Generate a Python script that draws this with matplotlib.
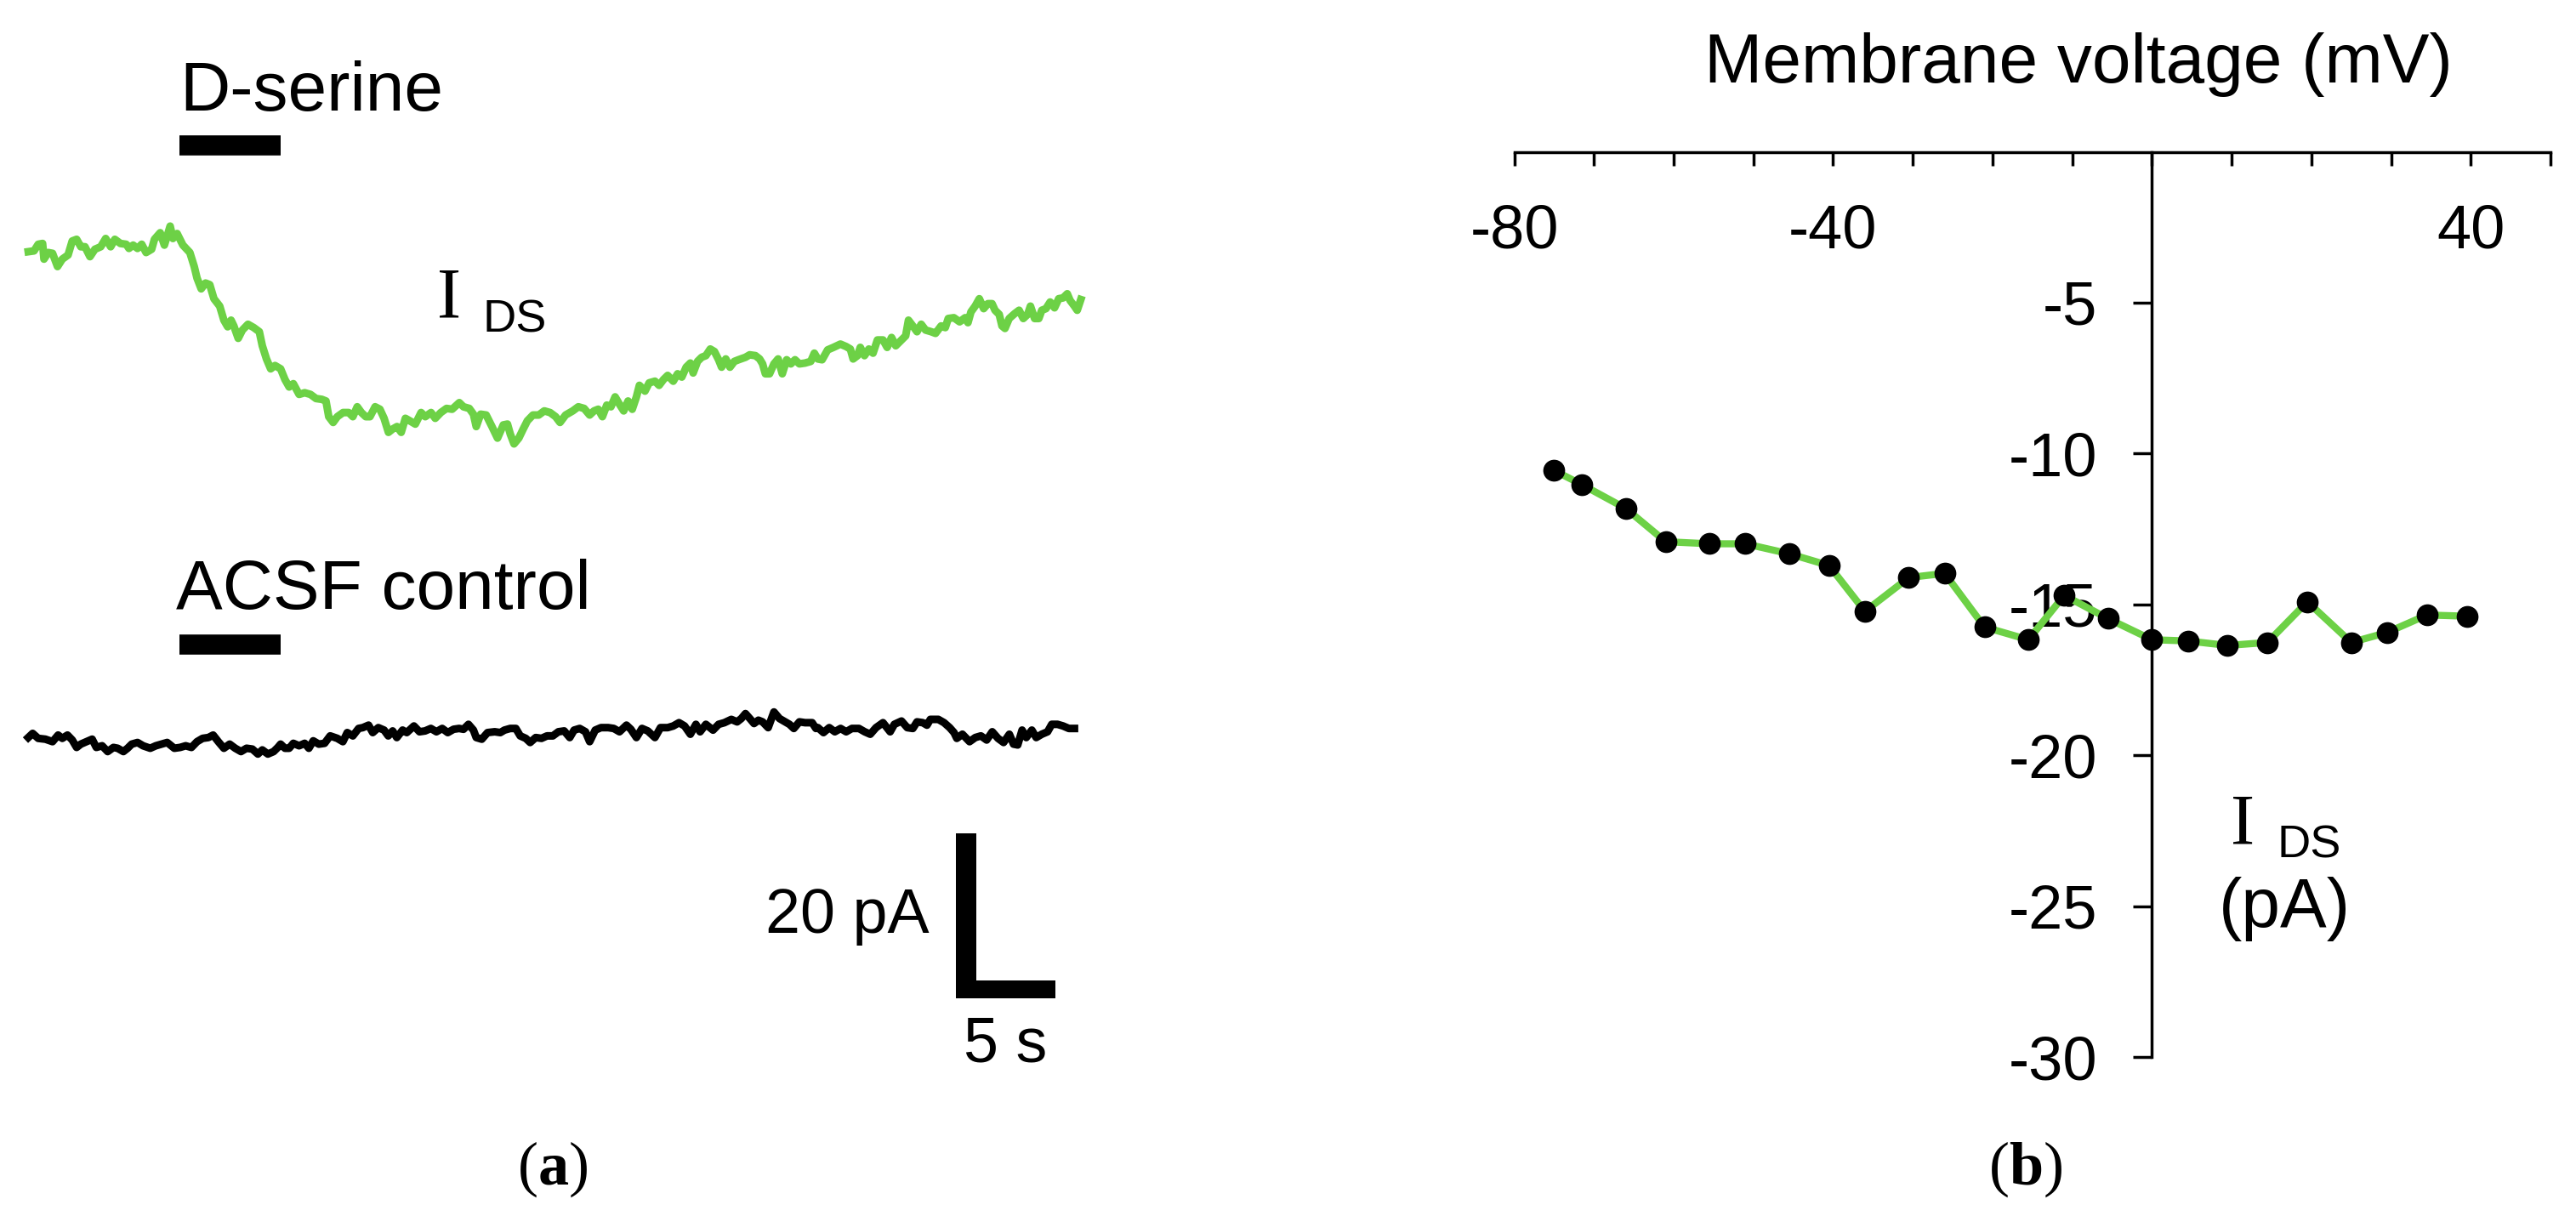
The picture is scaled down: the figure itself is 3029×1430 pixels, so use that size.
import matplotlib
matplotlib.use("Agg")
import matplotlib.pyplot as plt
from matplotlib.patches import Rectangle

plt.rcParams['font.family'] = 'Liberation Sans'
plt.rcParams['mathtext.fontset'] = 'custom'
plt.rcParams['mathtext.rm'] = 'Liberation Serif'
plt.rcParams['mathtext.bf'] = 'Liberation Serif:bold'

GREEN = '#6dd146'

# (a) D-serine trace: time (s), current (pA, relative to start)
dser_t = [0.01, 0.30, 0.51, 0.73, 0.80, 1.01, 1.23, 1.48, 1.72, 2.01, 2.22, 2.44, 2.65, 2.86,
          3.11, 3.36, 3.65, 3.90, 4.15, 4.36, 4.64, 4.93, 5.07, 5.28, 5.50, 5.71, 5.93, 6.21,
          6.35, 6.64, 6.85, 7.14, 7.28, 7.49, 7.78, 8.13, 8.35, 8.49, 8.70, 8.92, 9.13, 9.34,
          9.63, 9.84, 10.03, 10.20, 10.34, 10.56, 10.77, 11.05, 11.34, 11.62, 11.77, 11.98,
          12.19, 12.41, 12.69, 12.91, 13.12, 13.33, 13.62, 13.90, 14.19, 14.47, 14.76, 14.97,
          15.11, 15.33, 15.54, 15.83, 16.11, 16.32, 16.54, 16.75, 16.97, 17.18, 17.44,
          17.68, 17.89, 18.11, 18.32, 18.54, 18.75, 18.96, 19.18, 19.46, 19.75, 19.96, 20.25,
          20.46, 20.74, 21.03, 21.31, 21.67, 21.88, 22.17, 22.38, 22.52, 22.74, 23.02, 23.31,
          23.59, 23.88, 24.09, 24.23, 24.42, 24.66, 24.88, 25.09, 25.37, 25.66, 25.94, 26.23,
          26.51, 26.73, 27.01, 27.37, 27.65, 27.94, 28.22, 28.44, 28.65, 28.86, 29.08, 29.29,
          29.50, 29.72, 29.93, 30.15, 30.36, 30.57, 30.72, 31.00, 31.21, 31.50, 31.71, 31.93,
          32.14, 32.42, 32.64, 32.85, 33.07, 33.28, 33.42, 33.64, 33.85, 34.06, 34.28, 34.49,
          34.70, 34.85, 35.06, 35.27, 35.49, 35.70,
          36.05, 36.26, 36.55, 36.76, 36.91, 37.05, 37.26, 37.48, 37.69, 37.90, 38.12, 38.33,
          38.54, 38.76, 39.04, 39.33, 39.51, 39.68, 39.90, 40.18, 40.47, 40.82, 41.11, 41.32,
          41.46, 41.68, 41.82, 42.03, 42.25, 42.46, 42.68, 42.96, 43.17, 43.39, 43.60, 43.81,
          44.10, 44.24, 44.46, 44.67, 44.88, 45.10, 45.38, 45.60, 45.88, 46.09, 46.24, 46.52,
          46.81, 47.09, 47.23, 47.38, 47.59, 47.80, 48.02, 48.23, 48.44, 48.59, 48.80, 48.94,
          49.09, 49.30, 49.58, 49.80, 50.01, 50.23, 50.37, 50.58, 50.79, 50.94, 51.15, 51.36,
          51.58, 51.79, 52.01, 52.22, 52.36, 52.58, 52.72, 52.90]
dser_i = [0.0, 0.1, 0.9, 1.0, -0.9, -0.1, -0.2, -1.8, -0.9, -0.4, 1.3, 1.5, 0.6, 0.6,
          -0.6, 0.3, 0.6, 1.6, 0.6, 1.5, 1.0, 0.9, 0.4, 0.8, 0.4, 0.9, -0.1, 0.3,
          1.5, 2.3, 0.8, 3.1, 1.6, 2.2, 0.8, -0.1, -1.8, -3.2, -4.5, -3.8, -4.0, -5.7,
          -6.6, -8.3, -9.1, -8.3, -9.0, -10.5, -9.5, -8.8, -9.2, -9.7, -11.4, -13.0,
          -14.2, -13.8, -14.2, -15.5, -16.4, -16.0, -17.3, -17.1, -17.3, -17.8, -17.9, -18.1,
          -20.0, -20.7, -20.0, -19.5, -19.5, -20.0, -18.8, -19.5, -20.0, -20.0, -18.8,
          -19.1, -20.2, -21.9, -21.5, -21.2, -21.9, -20.2, -20.5, -20.9, -19.5, -20.0, -19.5,
          -20.2, -19.5, -19.0, -19.1, -18.3, -18.8, -19.0, -19.7, -21.2, -19.7, -19.8, -21.2,
          -22.6, -21.0, -20.9, -22.1, -23.3, -22.6, -21.5, -20.5, -19.8, -19.8, -19.3, -19.5,
          -20.0, -20.7, -19.8, -19.3, -18.8, -19.0, -19.8, -19.3, -19.1, -20.0, -18.6, -18.8,
          -17.6, -18.5, -19.3, -18.1, -19.1, -17.6, -16.2, -16.9, -15.9, -15.7, -16.2, -15.5,
          -15.0, -15.7, -14.8, -15.2, -14.0, -13.5, -14.7, -13.3, -12.8, -12.6, -11.8, -12.1,
          -13.1, -14.0, -13.0, -14.0, -13.3, -13.1,
          -12.8, -12.5, -12.6, -13.0, -13.6, -14.8, -14.8, -13.6, -13.0, -14.8, -13.1, -13.6,
          -13.1, -13.6, -13.5, -13.3, -12.3, -13.0, -13.1, -11.9, -11.6, -11.2, -11.5, -11.8,
          -13.0, -12.6, -11.6, -12.6, -11.8, -12.3, -10.7, -10.7, -11.6, -10.4, -11.4, -10.9,
          -10.2, -8.3, -9.0, -9.7, -8.8, -9.5, -9.7, -9.9, -9.0, -9.2, -8.1, -8.0,
          -8.5, -8.0, -8.6, -7.3, -6.6, -5.7, -6.9, -6.3, -6.3, -7.1, -7.6, -9.0,
          -9.3, -8.1, -7.5, -7.1, -8.1, -7.6, -6.6, -8.1, -8.1, -7.1, -6.9, -6.1,
          -6.8, -5.7, -5.6, -5.1, -5.9, -6.6, -7.1, -5.8]

# (a) ACSF control trace: time (s), current (pA, relative to start)
acsf_t = [0.01, 0.23, 0.51, 0.87, 1.23, 1.51, 1.72, 1.98, 2.22, 2.44, 2.65, 2.93, 3.22, 3.43,
          3.72, 4.00, 4.29, 4.50, 4.79, 5.00, 5.21, 5.50, 5.78, 6.14, 6.42, 6.71, 6.99, 7.35,
          7.64, 7.92, 8.21, 8.49, 8.77, 9.06, 9.30, 9.56, 9.84, 10.13, 10.41, 10.70, 10.98,
          11.27, 11.55, 11.77, 12.05, 12.34, 12.55, 12.69, 12.91,
          13.12, 13.33, 13.62, 13.90, 14.11, 14.33, 14.61, 14.90, 15.18, 15.54, 15.82, 16.04,
          16.32, 16.61, 16.82, 17.11, 17.32, 17.60, 17.89, 18.10, 18.32, 18.53, 18.82, 19.03,
          19.39, 19.67, 19.95, 20.24, 20.52, 20.81, 21.09, 21.38, 21.66, 21.88, 22.13, 22.38,
          22.52, 22.80, 23.09, 23.45, 23.73, 23.94, 24.23, 24.51, 24.73, 25.01, 25.23, 25.51,
          25.80, 26.08,
          26.37, 26.65, 26.94, 27.22, 27.44, 27.72, 28.01, 28.22, 28.50, 28.79, 29.15, 29.43,
          29.72, 30.07, 30.29, 30.57, 30.85, 31.14, 31.50, 31.78, 32.14, 32.42, 32.71, 32.99,
          33.28, 33.56, 33.77, 34.06, 34.42, 34.70, 34.99, 35.34, 35.63, 35.84, 36.05, 36.27,
          36.48, 36.70, 36.91, 37.19, 37.48, 37.76, 38.05, 38.26, 38.48, 38.76, 39.05, 39.40,
          39.59,
          39.69, 39.97, 40.26, 40.54, 40.83, 41.11, 41.40, 41.75, 42.04, 42.32, 42.61, 42.96,
          43.32, 43.53, 43.89, 44.18, 44.46, 44.67, 44.96, 45.17, 45.34, 45.74, 46.03, 46.31,
          46.53, 46.67, 46.95, 47.31, 47.60, 47.88, 48.17, 48.45, 48.74, 49.02, 49.31, 49.52,
          49.73, 49.95, 50.16, 50.44, 50.66, 50.94, 51.23, 51.44, 51.73, 52.01, 52.30, 52.58]
acsf_i = [0.3, 0.8, 0.2, 0.1, -0.2, 0.6, 0.2, 0.6, 0.0, -0.9, -0.5, -0.2, 0.1, -0.9,
          -0.7, -1.4, -0.9, -1.0, -1.4, -1.0, -0.5, -0.3, -0.7, -1.0, -0.7, -0.5, -0.3, -1.0,
          -0.9, -0.7, -0.9, -0.2, 0.2, 0.3, 0.6, -0.2, -1.0, -0.5, -1.0, -1.4, -1.0,
          -1.1, -1.7, -1.2, -1.7, -1.4, -0.9, -0.5, -1.0,
          -1.0, -0.4, -0.7, -0.4, -1.0, -0.1, -0.5, -0.4, 0.5, 0.2, -0.2, 0.9,
          0.5, 1.4, 1.5, 1.8, 0.9, 1.5, 1.2, 0.5, 1.1, 0.3, 1.2, 0.9,
          1.7, 1.0, 1.1, 1.4, 1.0, 1.4, 0.9, 1.3, 1.4, 1.3, 1.9, 1.2,
          0.3, 0.1, 0.9, 1.0, 0.9, 1.2, 1.4, 1.4, 0.5, 0.2, -0.3, 0.3,
          0.2, 0.5,
          0.5, 1.0, 1.1, 0.3, 1.2, 1.4, 1.0, -0.2, 1.2, 1.5, 1.5, 1.4,
          1.0, 1.8, 1.3, 0.3, 1.4, 1.1, 0.3, 1.5, 1.5, 1.7, 2.1, 1.7,
          0.7, 1.9, 1.0, 1.9, 1.2, 1.9, 2.1, 2.5, 2.2, 2.6, 3.2, 2.6,
          2.0, 2.4, 2.2, 1.5, 3.4, 2.6, 2.2, 1.9, 1.4, 2.2, 2.1, 2.1,
          1.4,
          1.5, 0.9, 1.5, 1.0, 1.4, 1.0, 1.4, 1.4, 1.0, 0.7, 1.5, 2.1,
          1.0, 1.9, 2.3, 1.5, 1.4, 2.2, 2.1, 1.8, 2.5, 2.5, 2.1, 1.5,
          0.9, 0.2, 0.7, -0.2, 0.3, 0.5, 0.0, 1.0, 0.2, -0.3, 0.7, -0.5,
          -0.6, 1.2, 0.3, 1.2, 0.3, 0.7, 1.0, 1.9, 1.9, 1.7, 1.4, 1.4]

# (b) I-V relation
vm = [-75, -71.5, -66, -61, -55.5, -51, -45.5, -40.5, -36, -30.5, -26, -21,
      -15.5, -11, -5.5, 0, 4.5, 9.5, 14.5, 19.5, 25, 29.5, 34.5, 39.5]
ids = [-10.56, -11.03, -11.82, -12.92, -12.99, -12.99, -13.32, -13.71, -15.23, -14.11,
       -13.97, -15.75, -16.17, -14.70, -15.47, -16.17, -16.21, -16.36, -16.26, -14.91,
       -16.26, -15.93, -15.35, -15.39]

xtick_vals = list(range(-80, 51, 10))
xtick_text = ['-80', '', '', '', '-40', '', '', '', '', '', '', '', '40', '']
ytick_vals = [-30, -25, -20, -15, -10, -5]
ytick_text = ['-30', '-25', '-20', '-15', '-10', '-5']

W, H = 3029, 1430
fig = plt.figure(figsize=(W / 100, H / 100), dpi=100)

# ---- panel (a): traces without axes, drawn in s / pA
T_PX = 23.4   # px per second
I_PX = 9.7    # px per pA
ax_a = fig.add_axes([0, 0, 1515 / W, 1])
ax_a.set_xlim(-33 / T_PX, (1515 - 33) / T_PX)
ax_a.set_ylim(-(H - 296) / I_PX, 296 / I_PX)
ax_a.axis('off')

acsf_shift = -59.2
ax_a.plot(dser_t, dser_i, color=GREEN, lw=6.5, solid_joinstyle='round')
ax_a.plot(acsf_t, [v + acsf_shift for v in acsf_i], color='k', lw=6.5, solid_joinstyle='round')

# application bars
ax_a.plot([7.61, 12.7], [12.9, 12.9], color='k', lw=17, solid_capstyle='butt')
ax_a.plot([7.61, 12.7], [-47.6, -47.6], color='k', lw=17, solid_capstyle='butt')
ax_a.text(7.61, 17.1, 'D-serine', fontsize=59, va='baseline', ha='left')
ax_a.text(7.44, -43.3, 'ACSF control', fontsize=59, va='baseline', ha='left')

ax_a.text(20.56, -7.94, 'I', fontsize=61, family='Liberation Serif', va='baseline')
ax_a.text(22.86, -9.79, 'DS', fontsize=39, va='baseline')

# scale bar: 5 s, 20 pA
sb_t, sb_i = 46.63, -90.5
ax_a.add_patch(Rectangle((sb_t, sb_i), 1.03, 20, color='k', lw=0))
ax_a.add_patch(Rectangle((sb_t, sb_i), 5, 2.2, color='k', lw=0))
ax_a.text(45.3, -82.6, '20 pA', fontsize=53, ha='right', va='baseline')
ax_a.text(49.1, -98.2, '5 s', fontsize=53, ha='center', va='baseline')

# ---- panel (b): I-V plot with crossing axes
ax_b = fig.add_axes([1780.5 / W, 1 - 1243 / H, (2999 - 1780.5) / W, (1243 - 178.6) / H])
ax_b.set_xlim(-80, 50)
ax_b.set_ylim(-30, 0)
ax_b.patch.set_alpha(0)
for s in ['right', 'bottom']:
    ax_b.spines[s].set_visible(False)
ax_b.spines['left'].set_position(('data', 0))
ax_b.spines['left'].set_linewidth(2.5)
ax_b.spines['top'].set_linewidth(2.5)
ax_b.xaxis.set_ticks_position('top')
ax_b.set_xticks(xtick_vals)
ax_b.set_xticklabels(xtick_text)
ax_b.set_yticks(ytick_vals)
ax_b.set_yticklabels(ytick_text)
ax_b.tick_params(axis='x', direction='in', length=11.5, width=2.5, pad=-92, labelsize=52)
ax_b.tick_params(axis='y', direction='out', length=16, width=2.5, pad=30, labelsize=52)

ax_b.plot(vm, ids, color=GREEN, lw=6, marker='o', ms=17.5, mfc='k', mec='k',
          zorder=3, clip_on=False)

ax_b.text(-9.2, 2.3, 'Membrane voltage (mV)', fontsize=59, ha='center', va='baseline')
ax_b.text(9.88, -22.95, 'I', fontsize=61, family='Liberation Serif', va='baseline')
ax_b.text(15.75, -23.38, 'DS', fontsize=39, va='baseline')
ax_b.text(16.6, -25.69, '(pA)', fontsize=59, ha='center', va='baseline')

# panel labels
fig.text(650 / W, 1 - 1375 / H, r'($\mathbf{a}$)', fontsize=52, family='Liberation Serif',
         ha='center', va='center')
fig.text(2382 / W, 1 - 1375 / H, r'($\mathbf{b}$)', fontsize=52, family='Liberation Serif',
         ha='center', va='center')

fig.savefig('out.png', dpi=100)
